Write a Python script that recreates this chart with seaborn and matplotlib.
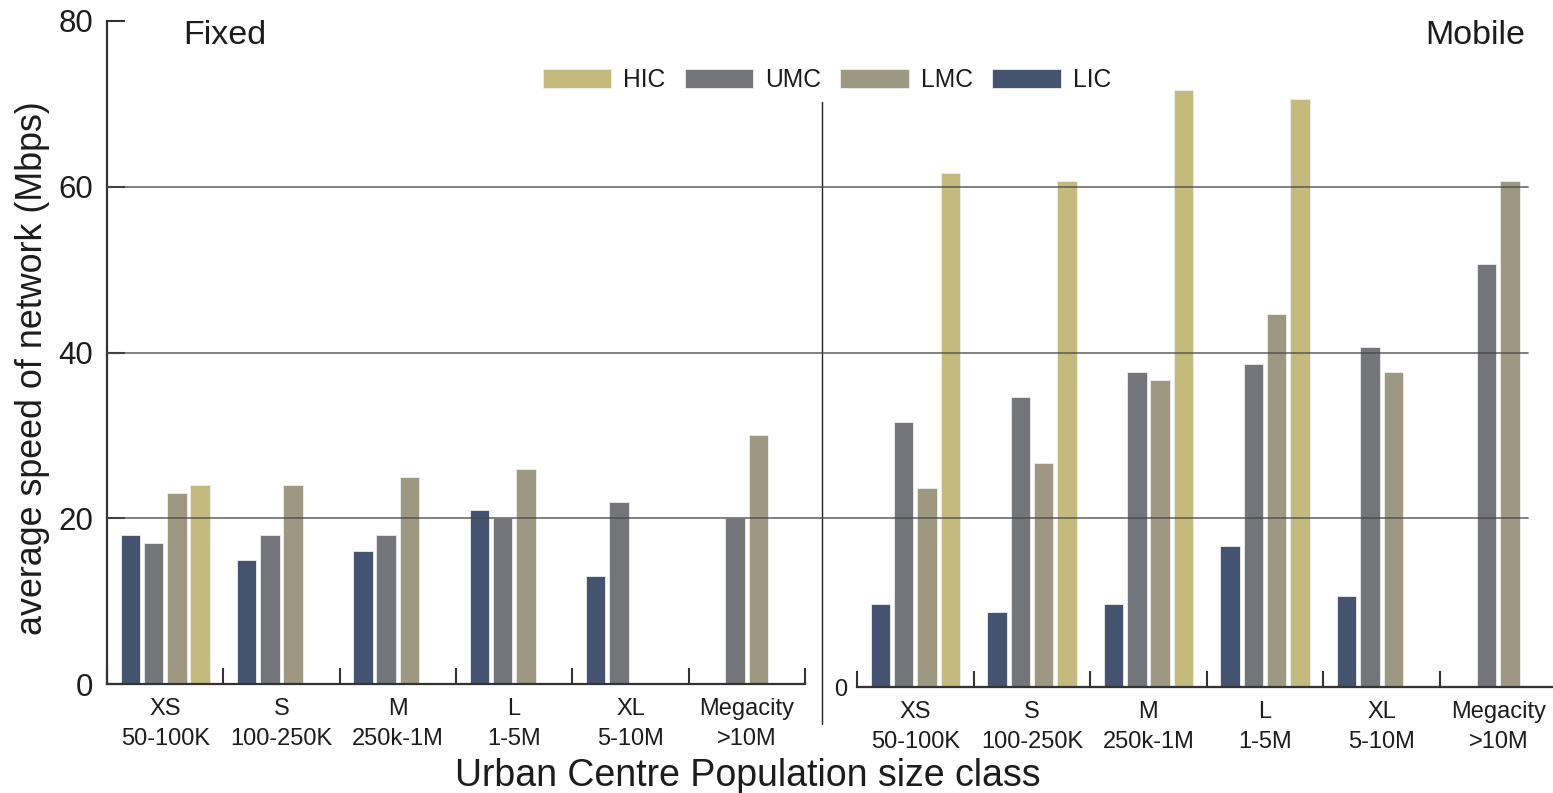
import numpy as np
import pandas as pd
import matplotlib
matplotlib.use("Agg")
import matplotlib.pyplot as plt
from matplotlib.patches import Patch
from matplotlib.lines import Line2D
import seaborn as sns

# ---- data -------------------------------------------------------------
sizes = ["XS", "S", "M", "L", "XL", "Megacity"]
size_labels = ["XS\n50-100K", "S\n100-250K", "M\n250k-1M",
               "L\n1-5M", "XL\n5-10M", "Megacity\n>10M"]
income_groups = ["LIC", "UMC", "LMC", "HIC"]
legend_order = ["HIC", "UMC", "LMC", "LIC"]

# average speed (Mbps) per size class, fixed broadband
fixed_lic = [18, 15, 16, 21, 13, np.nan]
fixed_umc = [17, 18, 18, 20, 22, 20]
fixed_lmc = [23, 24, 25, 26, np.nan, 30]
fixed_hic = [24, np.nan, np.nan, np.nan, np.nan, np.nan]

# average speed (Mbps) per size class, mobile
mobile_lic = [10, 9, 10, 17, 11, np.nan]
mobile_umc = [32, 35, 38, 39, 41, 51]
mobile_lmc = [24, 27, 37, 45, 38, 61]
mobile_hic = [62, 61, 72, 71, np.nan, np.nan]

palette = {"LIC": "#44536f", "UMC": "#74757b", "LMC": "#9e9883", "HIC": "#c4ba7d"}


def long_frame(lic, umc, lmc, hic):
    rows = []
    for group, vals in zip(income_groups, [lic, umc, lmc, hic]):
        for size, v in zip(sizes, vals):
            if not np.isnan(v):
                rows.append({"size": size, "income": group, "speed": v})
    return pd.DataFrame(rows)


fixed_df = long_frame(fixed_lic, fixed_umc, fixed_lmc, fixed_hic)
mobile_df = long_frame(mobile_lic, mobile_umc, mobile_lmc, mobile_hic)

# ---- style ------------------------------------------------------------
sns.set_style("white")
plt.rcParams["font.family"] = ["Liberation Sans", "DejaVu Sans"]
text_color = "#1c1c1c"
spine_color = "#333333"
plt.rcParams["text.color"] = text_color
plt.rcParams["xtick.color"] = spine_color
plt.rcParams["ytick.color"] = spine_color
plt.rcParams["xtick.labelcolor"] = text_color
plt.rcParams["ytick.labelcolor"] = text_color

W, H = 1553, 793
fig = plt.figure(figsize=(W / 100, H / 100), dpi=100)
fig.patch.set_facecolor("white")

ax_fixed = fig.add_axes([107 / W, (H - 684) / H, 698 / W, 663 / H])
ax_mobile = fig.add_axes([857 / W, (H - 687) / H, 699.6 / W, 663 / H])
ax_fixed.set_zorder(2)
ax_fixed.patch.set_alpha(0)
ax_mobile.patch.set_alpha(0)

for ax, df in [(ax_fixed, fixed_df), (ax_mobile, mobile_df)]:
    sns.barplot(data=df, x="size", y="speed", hue="income",
                order=sizes, hue_order=income_groups, palette=palette,
                width=0.8, gap=0.165, errorbar=None, legend=False,
                edgecolor="#eeeeee", linewidth=0.6, saturation=1, ax=ax)
    ax.set_xlim(-0.5, 5.5)
    ax.set_ylim(0, 80)
    ax.set_xlabel("")
    ax.set_ylabel("")
    ax.set_xticks(range(len(sizes)))
    ax.set_xticklabels(size_labels, linespacing=1.48)
    ax.set_xticks(np.arange(-0.5, len(sizes), 1), minor=True)
    ax.tick_params(axis="x", which="major", length=0, pad=10, labelsize=17)
    ax.tick_params(axis="x", which="minor", direction="in", length=11.5,
                   width=1.5, color=spine_color, bottom=True)
    for side in ["top", "right"]:
        ax.spines[side].set_visible(False)
    ax.spines["bottom"].set_color(spine_color)
    ax.spines["bottom"].set_linewidth(1.6)

# fixed panel y axis
ax_fixed.set_yticks([0, 20, 40, 60, 80])
ax_fixed.tick_params(axis="y", direction="in", length=13, width=1.5,
                     labelsize=22.5, pad=10, left=True)
ax_fixed.spines["left"].set_color(spine_color)
ax_fixed.spines["left"].set_linewidth(1.6)

# mobile panel: only the zero label
ax_mobile.spines["left"].set_visible(False)
ax_mobile.set_yticks([0])
ax_mobile.tick_params(axis="y", length=0, labelsize=17, pad=7)

# horizontal reference lines running across both panels
for y in (20, 40, 60):
    ax_fixed.axhline(y, xmin=0, xmax=(1528 - 107) / 698, color="#4a4a4a",
                     lw=1.3, alpha=0.75, clip_on=False, zorder=5)

# divider between the panels
fig.add_artist(Line2D([822 / W, 822 / W], [1 - 102 / H, 1 - 724 / H],
                      color="#222222", lw=1.0))

# panel titles
fig.text(183 / W, 1 - 35 / H, "Fixed", fontsize=24.5, ha="left", va="center")
fig.text(1525 / W, 1 - 35 / H, "Mobile", fontsize=24.5, ha="right", va="center")

# axis titles
fig.text(33 / W, 1 - 368 / H, "average speed of network (Mbps)",
         rotation=90, ha="center", va="center", fontsize=25.8)
fig.text(748 / W, 1 - 776 / H, "Urban Centre Population size class",
         ha="center", va="center", fontsize=27)

# legend
handles = [Patch(facecolor=palette[g], edgecolor="#eeeeee", linewidth=0.6)
           for g in legend_order]
fig.legend(handles, legend_order, ncol=4, loc="center",
           bbox_to_anchor=(827 / W, 1 - 80 / H), frameon=False,
           fontsize=17.7, handlelength=2.8, handleheight=0.77,
           handletextpad=0.49, columnspacing=0.77)

fig.savefig("out.png", dpi=100, facecolor="white")
